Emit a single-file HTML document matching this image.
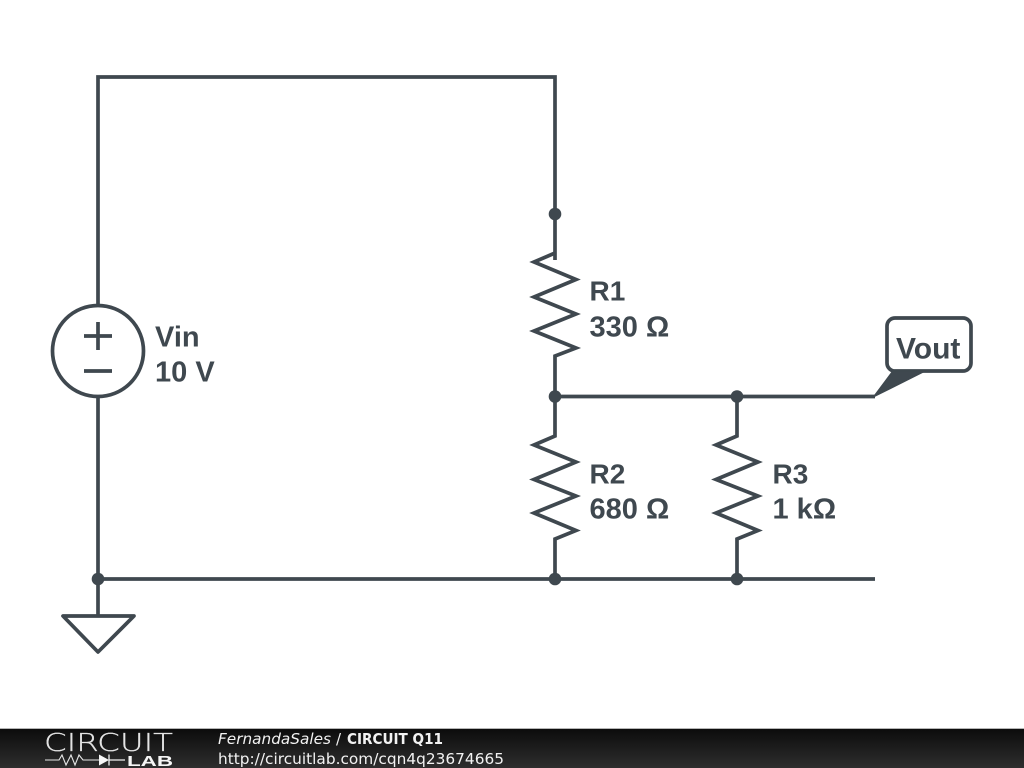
<!DOCTYPE html>
<html><head><meta charset="utf-8"><style>html,body{margin:0;padding:0;background:#fff;width:1024px;height:768px;overflow:hidden}svg{display:block}</style></head><body>
<svg width="1024" height="768" viewBox="0 0 1024 768" xmlns="http://www.w3.org/2000/svg">
<defs><linearGradient id="g" x1="0" y1="0" x2="0" y2="1"><stop offset="0" stop-color="#0c0c0c"/><stop offset="1" stop-color="#2e2e2e"/></linearGradient></defs>
<rect width="1024" height="768" fill="#fff"/>
<g fill="none" stroke="#3f484f" stroke-width="3.700" stroke-linejoin="miter">
<path d="M98 305V77H555V260"/>
<path d="M98 397V615"/>
<path d="M98 579H875"/>
<path d="M555 396.500H875"/>
<path d="M555 253L534 262L576 279.500L534 297L576 314L534 331L576 348L555 356V396"/>
<path d="M555 396V436L534 445L576 462L534 479.500L576 496L534 513L576 530.500L555 539V579"/>
<path d="M737 396V436L716 445L758 462L716 479.500L758 496L716 513L758 530.500L737 539V579"/>
<circle cx="98" cy="351" r="45.500"/>
<path d="M84 336H112M98 322V350M84 371H112"/>
<path d="M63 616H134L98 652Z" stroke-linejoin="round"/>
<rect x="887" y="318" width="84" height="53" rx="8"/>
</g>
<path d="M874 396.500L893 371H925Z" fill="#3f484f" stroke="#3f484f" stroke-width="1.500" stroke-linejoin="round"/>
<g fill="#3f484f"><circle cx="555" cy="214" r="6.300"/><circle cx="555" cy="396.500" r="6.300"/><circle cx="737" cy="396.500" r="6.300"/><circle cx="98" cy="579" r="6.300"/><circle cx="555" cy="579" r="6.300"/><circle cx="737" cy="579" r="6.300"/></g>
<g font-family="'Liberation Sans',sans-serif" font-weight="700" font-size="29" fill="#3f484f">
<text x="155" y="346.500">Vin</text><text x="155" y="381.500">10 V</text>
<text x="589.500" y="300.500" font-size="28">R1</text><text x="589.500" y="336.500">330 Ω</text>
<text x="589.500" y="483.500" font-size="28">R2</text><text x="589.500" y="518.500">680 Ω</text>
<text x="772.500" y="483.500" font-size="28">R3</text><text x="772.500" y="518.500">1 kΩ</text>
<text x="896" y="358.500" font-size="30">Vout</text>
</g>
<rect y="729" width="1024" height="39" fill="url(#g)"/>
<rect y="728" width="1024" height="1" fill="#b5b5b5"/>
<g font-family="'DejaVu Sans',sans-serif" fill="#f2f2f2">
<text x="218" y="744" font-size="15" font-style="italic" textLength="113" lengthAdjust="spacingAndGlyphs">FernandaSales</text>
<text x="336" y="744" font-size="15">/</text>
<text x="347" y="744" font-size="15" font-weight="700" textLength="96" lengthAdjust="spacingAndGlyphs">CIRCUIT Q11</text>
<text x="218" y="764" font-size="15" textLength="286" lengthAdjust="spacingAndGlyphs">http://circuitlab.com/cqn4q23674665</text>
</g>
<text x="44" y="751" font-family="'DejaVu Sans','Liberation Sans',sans-serif" font-weight="200" font-size="25" textLength="129" lengthAdjust="spacingAndGlyphs" fill="#e4e4e4" stroke="#e4e4e4" stroke-width="0.250">CIRCUIT</text>
<text x="127" y="766" font-family="'Liberation Sans',sans-serif" font-weight="700" font-size="15" textLength="46" lengthAdjust="spacingAndGlyphs" fill="#f6f6f6">LAB</text>
<path d="M45 760H59L62 755L66 765L71 755L75 765L79 755L83 760H100" fill="none" stroke="#e8e8e8" stroke-width="1.100"/>
<path d="M99 754.500L109 760L99 765.500Z" fill="#f6f6f6"/>
<path d="M109 754.500V765.500M109 760H125" fill="none" stroke="#f2f2f2" stroke-width="1.300"/>
</svg>
</body></html>
